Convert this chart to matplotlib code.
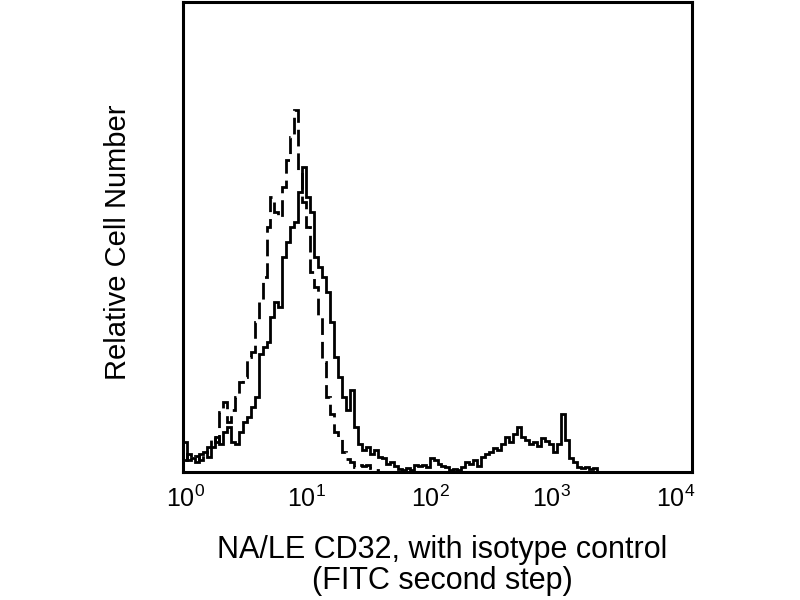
import numpy as np
import matplotlib
matplotlib.use("Agg")
import matplotlib.pyplot as plt
from matplotlib.transforms import ScaledTranslation

plt.rcParams['font.family'] = ['Liberation Sans', 'DejaVu Sans']

# channels: 32 channels per decade, starting at 10^0
channels_per_decade = 32

solid_counts = [30, 12, 14, 10, 18, 20, 15, 25, 35, 28,
                40, 45, 30, 28, 40, 50, 55, 65, 75, 118,
                125, 130, 155, 170, 165, 215, 230, 245, 250, 280,
                305, 275, 260, 215, 205, 195, 180, 150, 115, 95,
                75, 62, 82, 45, 28, 22, 25, 18, 22, 15,
                14, 8, 10, 6, 3, 2, 4, 2, 7, 6,
                7, 5, 14, 12, 8, 6, 5, 2, 3, 2,
                5, 10, 8, 12, 6, 15, 18, 20, 24, 22,
                28, 35, 30, 38, 45, 35, 32, 28, 30, 26,
                34, 31, 28, 20, 28, 58, 32, 14, 10, 5,
                4, 5, 3, 4, 0]

isotype_counts = [12, 18, 14, 16, 12, 20, 25, 35, 30, 60,
                  70, 50, 62, 75, 90, 95, 115, 120, 150, 170,
                  195, 245, 275, 260, 255, 285, 312, 335, 362, 300,
                  270, 245, 200, 185, 155, 110, 75, 58, 40, 35,
                  20, 13, 10, 5, 7, 6, 7, 4, 2, 0]

xtick_vals = [1, 10, 100, 1000, 10000]
xtick_labels = [r'$\mathregular{10^{0}}$', r'$\mathregular{10^{1}}$',
                r'$\mathregular{10^{2}}$', r'$\mathregular{10^{3}}$',
                r'$\mathregular{10^{4}}$']

fig = plt.figure(figsize=(8, 6), dpi=100)
ax = fig.add_axes([183/800, (600-472)/600, (692-183)/800, 470/600])

def edges_for(n):
    return 10 ** (np.arange(n + 1) / channels_per_decade)

ax.stairs(solid_counts, edges_for(len(solid_counts)), color='black', linewidth=2.0,
          baseline=None)
ax.stairs(isotype_counts, edges_for(len(isotype_counts)), color='black', linewidth=2.0,
          linestyle=(0, (6, 2.5)), baseline=None)

ax.set_xscale('log')
ax.set_xlim(1, 10000)
ax.set_ylim(0, 470)
ax.set_xticks(xtick_vals)
ax.set_xticklabels(xtick_labels, fontsize=18)
ax.minorticks_off()
ax.tick_params(axis='x', length=0, pad=10)
ax.set_yticks([])
for s in ax.spines.values():
    s.set_linewidth(2.2)

# slight horizontal shifts of the tick labels, as in the reference
label_shift_px = [3, -4, -7, -13, -16]
for lbl, dx in zip(ax.get_xticklabels(), label_shift_px):
    lbl.set_transform(lbl.get_transform() + ScaledTranslation(dx / 100, 0, fig.dpi_scale_trans))

ax.set_ylabel('Relative Cell Number', fontsize=21)
ax.yaxis.set_label_coords(-0.1, 0.488)
ax.set_xlabel('NA/LE CD32, with isotype control\n(FITC second step)', fontsize=22,
              linespacing=1.05)
ax.xaxis.set_label_coords(0.509, -0.133)

fig.savefig('out.png', dpi=100)
